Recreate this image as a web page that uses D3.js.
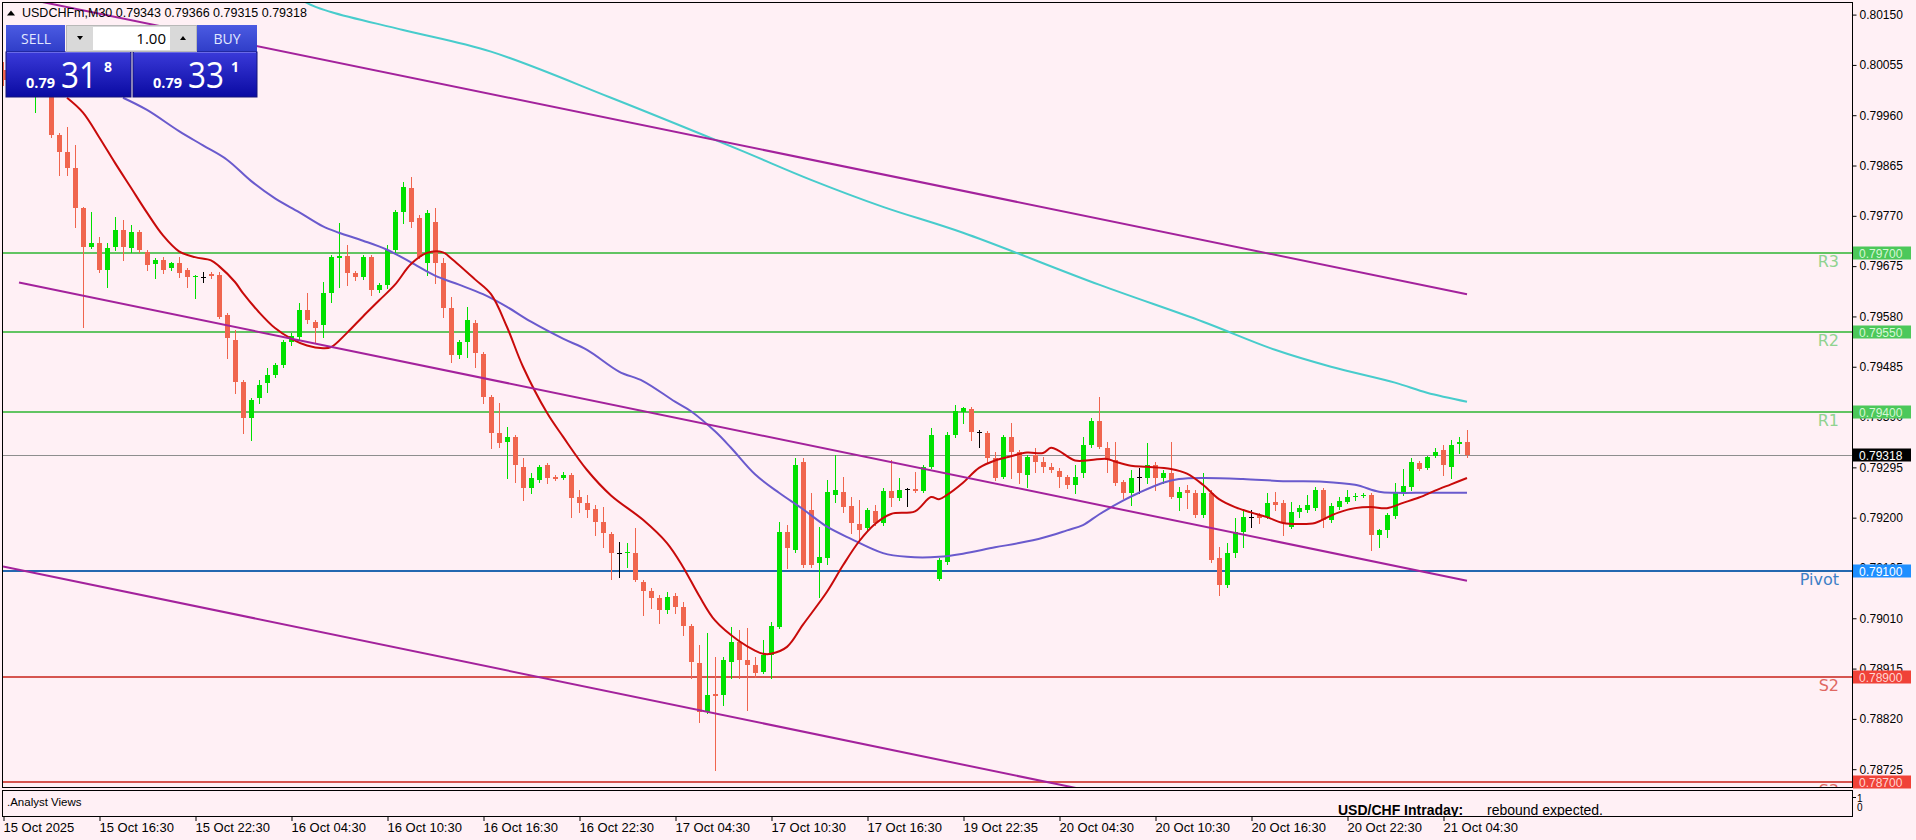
<!DOCTYPE html>
<html>
<head>
<meta charset="utf-8">
<style>
  body { margin: 0; background: #fff0f5; }
  svg { display: block; }
</style>
</head>
<body>
<svg width="1916" height="840" font-family="Liberation Sans, Arial, sans-serif"></svg>
<script src="https://d3js.org/d3.v7.min.js"></script>
<script>

// USDCHFm M30 candles, one row per bar: open, high, low, close
var bars = [
  [0.80046,0.80061,0.80017,0.80027],[0.80027,0.80042,0.80004,0.80034],[0.80034,0.80053,0.80008,0.80016],[0.80016,0.80031,0.79999,0.80023],
  [0.80010,0.80027,0.79966,0.80018],[0.80018,0.80031,0.79997,0.80008],[0.80008,0.80017,0.79919,0.79923],[0.79923,0.79927,0.79847,0.79891],
  [0.79891,0.79938,0.79847,0.79861],[0.79861,0.79904,0.79749,0.79785],[0.79785,0.79787,0.79560,0.79711],[0.79711,0.79778,0.79709,0.79719],
  [0.79719,0.79730,0.79664,0.79668],[0.79668,0.79719,0.79636,0.79709],[0.79711,0.79768,0.79706,0.79744],[0.79744,0.79762,0.79687,0.79711],
  [0.79709,0.79753,0.79702,0.79740],[0.79740,0.79744,0.79702,0.79706],[0.79702,0.79706,0.79668,0.79677],[0.79679,0.79691,0.79653,0.79687],
  [0.79687,0.79693,0.79662,0.79668],[0.79672,0.79683,0.79668,0.79681],[0.79681,0.79693,0.79655,0.79662],[0.79668,0.79672,0.79636,0.79655],
  [0.79655,0.79659,0.79615,0.79657],[0.79655,0.79664,0.79645,0.79655],[0.79660,0.79664,0.79653,0.79657],[0.79659,0.79664,0.79577,0.79579],
  [0.79583,0.79587,0.79502,0.79540],[0.79536,0.79555,0.79436,0.79456],[0.79456,0.79460,0.79360,0.79388],[0.79388,0.79426,0.79347,0.79422],
  [0.79426,0.79460,0.79417,0.79451],[0.79455,0.79483,0.79438,0.79470],[0.79470,0.79492,0.79466,0.79489],[0.79489,0.79536,0.79485,0.79532],
  [0.79532,0.79549,0.79526,0.79543],[0.79541,0.79606,0.79536,0.79592],[0.79592,0.79625,0.79568,0.79574],[0.79570,0.79574,0.79530,0.79558],
  [0.79564,0.79645,0.79541,0.79625],[0.79625,0.79696,0.79608,0.79693],[0.79691,0.79757,0.79636,0.79694],[0.79694,0.79715,0.79640,0.79662],
  [0.79662,0.79666,0.79649,0.79655],[0.79655,0.79696,0.79651,0.79693],[0.79693,0.79696,0.79621,0.79630],[0.79630,0.79643,0.79626,0.79640],
  [0.79640,0.79715,0.79634,0.79706],[0.79706,0.79781,0.79702,0.79778],[0.79778,0.79834,0.79757,0.79825],[0.79823,0.79844,0.79749,0.79759],
  [0.79766,0.79772,0.79691,0.79693],[0.79681,0.79781,0.79659,0.79776],[0.79759,0.79785,0.79643,0.79681],[0.79681,0.79691,0.79579,0.79596],
  [0.79596,0.79617,0.79494,0.79507],[0.79507,0.79536,0.79502,0.79532],[0.79532,0.79598,0.79504,0.79574],[0.79568,0.79574,0.79485,0.79511],
  [0.79509,0.79513,0.79417,0.79428],[0.79428,0.79432,0.79332,0.79360],[0.79360,0.79417,0.79334,0.79341],[0.79343,0.79371,0.79275,0.79353],
  [0.79353,0.79356,0.79268,0.79300],[0.79296,0.79313,0.79234,0.79256],[0.79256,0.79285,0.79247,0.79275],[0.79271,0.79300,0.79268,0.79296],
  [0.79300,0.79303,0.79266,0.79275],[0.79277,0.79281,0.79271,0.79273],[0.79275,0.79286,0.79273,0.79281],[0.79281,0.79285,0.79201,0.79237],
  [0.79239,0.79252,0.79211,0.79228],[0.79228,0.79243,0.79201,0.79215],[0.79217,0.79224,0.79167,0.79192],[0.79192,0.79220,0.79145,0.79171],
  [0.79169,0.79173,0.79084,0.79133],[0.79133,0.79154,0.79088,0.79133],[0.79133,0.79152,0.79107,0.79135],[0.79133,0.79181,0.79080,0.79082],
  [0.79079,0.79082,0.79016,0.79062],[0.79062,0.79067,0.79030,0.79048],[0.79048,0.79054,0.79001,0.79026],[0.79026,0.79060,0.79020,0.79050],
  [0.79052,0.79058,0.79020,0.79031],[0.79031,0.79041,0.78979,0.78996],[0.78996,0.78999,0.78897,0.78928],[0.78926,0.78960,0.78814,0.78833],
  [0.78833,0.78982,0.78831,0.78865],[0.78867,0.78937,0.78724,0.78863],[0.78865,0.78937,0.78846,0.78931],[0.78928,0.78994,0.78897,0.78965],
  [0.78965,0.78988,0.78897,0.78931],[0.78931,0.78992,0.78837,0.78922],[0.78922,0.78937,0.78899,0.78907],[0.78909,0.78969,0.78907,0.78941],
  [0.78941,0.79003,0.78897,0.78996],[0.78994,0.79192,0.78992,0.79173],[0.79173,0.79186,0.79105,0.79143],[0.79139,0.79313,0.79135,0.79300],
  [0.79305,0.79313,0.79107,0.79111],[0.79215,0.79247,0.79107,0.79111],[0.79115,0.79183,0.79050,0.79126],[0.79124,0.79271,0.79113,0.79249],
  [0.79243,0.79319,0.79230,0.79252],[0.79249,0.79277,0.79211,0.79220],[0.79222,0.79239,0.79171,0.79190],[0.79188,0.79234,0.79152,0.79177],
  [0.79181,0.79218,0.79177,0.79215],[0.79213,0.79224,0.79186,0.79190],[0.79190,0.79256,0.79186,0.79251],[0.79251,0.79309,0.79222,0.79237],
  [0.79237,0.79275,0.79234,0.79252],[0.79254,0.79256,0.79222,0.79254],[0.79254,0.79286,0.79249,0.79251],[0.79251,0.79300,0.79249,0.79296],
  [0.79296,0.79370,0.79294,0.79356],[0.79084,0.79124,0.79082,0.79120],[0.79116,0.79362,0.79113,0.79356],[0.79356,0.79413,0.79353,0.79402],
  [0.79400,0.79409,0.79379,0.79407],[0.79405,0.79409,0.79347,0.79362],[0.79362,0.79366,0.79334,0.79362],[0.79360,0.79364,0.79303,0.79313],
  [0.79313,0.79324,0.79271,0.79275],[0.79277,0.79356,0.79275,0.79353],[0.79353,0.79379,0.79275,0.79324],[0.79324,0.79328,0.79266,0.79285],
  [0.79281,0.79319,0.79258,0.79315],[0.79319,0.79332,0.79286,0.79305],[0.79305,0.79315,0.79286,0.79296],[0.79296,0.79303,0.79286,0.79290],
  [0.79288,0.79294,0.79258,0.79277],[0.79277,0.79281,0.79256,0.79262],[0.79262,0.79300,0.79247,0.79277],[0.79285,0.79353,0.79277,0.79337],
  [0.79337,0.79388,0.79334,0.79383],[0.79383,0.79428,0.79332,0.79334],[0.79332,0.79343,0.79286,0.79309],[0.79309,0.79343,0.79262,0.79266],
  [0.79268,0.79271,0.79237,0.79247],[0.79247,0.79290,0.79224,0.79275],[0.79277,0.79294,0.79247,0.79277],[0.79275,0.79341,0.79266,0.79300],
  [0.79300,0.79305,0.79252,0.79275],[0.79275,0.79290,0.79266,0.79285],[0.79285,0.79343,0.79237,0.79239],[0.79237,0.79258,0.79215,0.79249],
  [0.79252,0.79262,0.79218,0.79247],[0.79247,0.79252,0.79201,0.79205],[0.79205,0.79285,0.79201,0.79247],[0.79247,0.79252,0.79116,0.79120],
  [0.79124,0.79145,0.79054,0.79073],[0.79073,0.79152,0.79069,0.79133],[0.79133,0.79200,0.79126,0.79173],[0.79173,0.79215,0.79145,0.79201],
  [0.79201,0.79215,0.79183,0.79201],[0.79205,0.79209,0.79190,0.79200],[0.79201,0.79247,0.79199,0.79228],[0.79230,0.79249,0.79215,0.79224],
  [0.79228,0.79234,0.79167,0.79190],[0.79183,0.79230,0.79181,0.79211],[0.79211,0.79224,0.79201,0.79218],[0.79215,0.79243,0.79211,0.79224],
  [0.79218,0.79258,0.79215,0.79252],[0.79252,0.79256,0.79183,0.79196],[0.79196,0.79228,0.79192,0.79222],[0.79220,0.79239,0.79217,0.79232],
  [0.79230,0.79252,0.79228,0.79239],[0.79239,0.79247,0.79234,0.79241],[0.79241,0.79247,0.79239,0.79243],[0.79243,0.79247,0.79139,0.79167],
  [0.79167,0.79179,0.79145,0.79177],[0.79177,0.79209,0.79164,0.79205],[0.79203,0.79266,0.79200,0.79247],[0.79247,0.79292,0.79243,0.79260],
  [0.79258,0.79313,0.79252,0.79305],[0.79303,0.79307,0.79290,0.79292],[0.79294,0.79317,0.79292,0.79315],[0.79317,0.79332,0.79315,0.79324],
  [0.79328,0.79337,0.79281,0.79300],[0.79296,0.79347,0.79275,0.79337],[0.79339,0.79353,0.79322,0.79343],[0.79343,0.79366,0.79315,0.79318]
];

// bar index -> time label on the bottom scale
var timeIndex = [0, 12, 24, 36, 48, 60, 72, 84, 96, 108, 120, 132, 144, 156, 168, 180];
var timeLabels = ["15 Oct 2025", "15 Oct 16:30", "15 Oct 22:30", "16 Oct 04:30", "16 Oct 10:30", "16 Oct 16:30",
  "16 Oct 22:30", "17 Oct 04:30", "17 Oct 10:30", "17 Oct 16:30", "19 Oct 22:35", "20 Oct 04:30",
  "20 Oct 10:30", "20 Oct 16:30", "20 Oct 22:30", "21 Oct 04:30"];

var priceTicks = [0.80150, 0.80055, 0.79960, 0.79865, 0.79770, 0.79675, 0.79580, 0.79485,
  0.79390, 0.79295, 0.79200, 0.79105, 0.79010, 0.78915, 0.78820, 0.78725];

var levelNames = ["R3", "R2", "R1", "Pivot", "S2", "S3"];
var levelPrices = [0.79700, 0.79550, 0.79400, 0.79100, 0.78900, 0.78700];

var lastPrice = 0.79318;
var ohlcTitle = [0.79343, 0.79366, 0.79315, 0.79318];

// moving averages: [bar index, price]
var fastMA = [[8,0.79993],[10,0.79965],[12,0.79919],[14,0.79870],[16,0.79823],[18,0.79776],[20,0.79733],[22,0.79703],
  [24,0.79692],[26,0.79686],[27,0.79675],[29,0.79645],[30,0.79624],[32,0.79588],[34,0.79558],[36,0.79538],[38,0.79525],
  [40,0.79520],[41,0.79522],[43,0.79549],[45,0.79580],[47,0.79610],[49,0.79640],[51,0.79679],[53,0.79700],[55,0.79701],
  [56,0.79690],[59,0.79650],[61,0.79622],[63,0.79560],[65,0.79485],[68,0.79398],[70,0.79353],[73,0.79290],[76,0.79242],
  [80,0.79196],[83,0.79152],[85,0.79107],[87,0.79053],[89,0.79006],[92,0.78967],[94,0.78949],[95,0.78943],[96,0.78943],
  [98,0.78956],[100,0.78998],[103,0.79060],[105,0.79110],[107,0.79155],[109,0.79188],[111,0.79207],[114,0.79212],
  [116,0.79239],[117,0.79235],[118,0.79243],[120,0.79266],[122,0.79294],[124,0.79308],[126,0.79316],[128,0.79323],
  [130,0.79322],[131,0.79332],[132,0.79326],[134,0.79308],[136,0.79309],[138,0.79311],[139,0.79306],[141,0.79298],
  [143,0.79296],[146,0.79292],[148,0.79283],[150,0.79262],[152,0.79235],[154,0.79220],[156,0.79210],[158,0.79201],
  [160,0.79190],[162,0.79188],[164,0.79190],[166,0.79204],[167,0.79210],[169,0.79218],[171,0.79220],[173,0.79218],
  [175,0.79228],[177,0.79238],[179,0.79251],[181,0.79263],[183,0.79275]];

var slowMA = [[15,0.79993],[18,0.79970],[22,0.79930],[25,0.79903],[28,0.79876],[31,0.79836],[34,0.79803],[37,0.79777],
  [40,0.79750],[42,0.79738],[45,0.79723],[48,0.79706],[51,0.79682],[54,0.79657],[57,0.79640],[60,0.79622],[63,0.79598],
  [66,0.79570],[70,0.79538],[73,0.79517],[77,0.79476],[80,0.79458],[84,0.79419],[86,0.79401],[89,0.79363],[91,0.79332],
  [94,0.79282],[97,0.79247],[100,0.79216],[103,0.79183],[106,0.79160],[110,0.79133],[113,0.79126],[117,0.79126],
  [120,0.79132],[124,0.79144],[127,0.79152],[130,0.79162],[133,0.79176],[135,0.79186],[137,0.79206],[140,0.79232],
  [142,0.79247],[145,0.79266],[147,0.79273],[150,0.79275],[155,0.79273],[160,0.79269],[165,0.79268],[169,0.79262],
  [172,0.79249],[174,0.79247],[178,0.79247],[183,0.79247]];

var longMA = [[34,0.80220],[38,0.80172],[41,0.80155],[50,0.80121],[61,0.80080],[76,0.79993],[92,0.79895],[101,0.79838],
  [110,0.79787],[120,0.79738],[137,0.79640],[150,0.79570],[159,0.79517],[166,0.79485],[174,0.79455],[178,0.79436],[183,0.79419]];

// regression channel lines: start and end [bar index, price]
var channelLines = [
  [[0, 0.80189], [183, 0.79622]],
  [[2, 0.79644], [183, 0.79081]],
  [[0, 0.79108], [183, 0.78537]]
];

var svg = d3.select("svg"),
    width = +svg.attr("width"),
    height = +svg.attr("height");

var plotL = 2, plotT = 2, plotR = 1852, plotB = 787;

svg.append("rect").attr("width", width).attr("height", height).attr("fill", "#fff0f5");

var defs = svg.append("defs");
defs.append("clipPath").attr("id", "plot")
  .append("rect").attr("x", plotL + 1).attr("y", plotT + 1)
  .attr("width", plotR - plotL - 1).attr("height", plotB - plotT - 1);
defs.append("clipPath").attr("id", "sub")
  .append("rect").attr("x", plotL + 1).attr("y", 791)
  .attr("width", plotR - plotL - 1).attr("height", 25);

var x = d3.scaleLinear().domain([0, 183]).range([3, 1467]);
var y = d3.scaleLinear().domain([0.78725, 0.80150]).range([769.2, 14.6]);
var px = function(i) { return Math.round(x(i)); };

var levelColor = function(d) { return d[0] == "R" ? "#62c462" : d[0] == "P" ? "#2468b0" : "#d65550"; };
var levelText = function(d) { return d[0] == "R" ? "#8fd38f" : d[0] == "P" ? "#3d7fc6" : "#e06862"; };
var levelBox = function(d) { return d[0] == "R" ? "#4cc85a" : d[0] == "P" ? "#1e8fff" : "#f04238"; };
var levelBoxText = function(d) { return d[0] == "R" ? "#d6f7d6" : d[0] == "P" ? "#ffffff" : "#ffd6d2"; };

var plot = svg.append("g").attr("clip-path", "url(#plot)");

// pivot levels
plot.selectAll(".level")
  .data(levelNames)
  .enter().append("line")
    .attr("class", "level")
    .attr("x1", plotL).attr("x2", plotR)
    .attr("y1", function(d, i) { return Math.round(y(levelPrices[i])); })
    .attr("y2", function(d, i) { return Math.round(y(levelPrices[i])); })
    .attr("stroke", levelColor)
    .attr("stroke-width", 2);

plot.append("line")
    .attr("x1", plotL).attr("x2", plotR)
    .attr("y1", Math.round(y(lastPrice)) + 0.5).attr("y2", Math.round(y(lastPrice)) + 0.5)
    .attr("stroke", "#8e8e8e").attr("stroke-width", 1);

plot.selectAll(".lvltext")
  .data(levelNames)
  .enter().append("text")
    .attr("x", 1839)
    .attr("y", function(d, i) { return Math.round(y(levelPrices[i])) + 14; })
    .attr("text-anchor", "end")
    .attr("font-family", "DejaVu Sans, sans-serif")
    .attr("font-size", 16)
    .attr("fill", levelText)
    .text(function(d) { return d; });

// candles
var up = "#00e000", down = "#f0654e";
var candle = plot.selectAll(".bar")
  .data(bars)
  .enter().append("g")
    .attr("class", "bar");

candle.append("line")
    .attr("x1", function(d, i) { return px(i) + 0.5; })
    .attr("x2", function(d, i) { return px(i) + 0.5; })
    .attr("y1", function(d) { return Math.round(y(d[1])); })
    .attr("y2", function(d) { return Math.round(y(d[2])) + 1; })
    .attr("stroke", function(d) { return d[0] == d[3] ? "#000" : d[3] > d[0] ? up : down; });

candle.append("rect")
    .attr("x", function(d, i) { return px(i) - 2; })
    .attr("width", 5)
    .attr("y", function(d) { return Math.round(y(Math.max(d[0], d[3]))); })
    .attr("height", function(d) { return Math.max(1, Math.round(y(Math.min(d[0], d[3]))) - Math.round(y(Math.max(d[0], d[3])))); })
    .attr("fill", function(d) { return d[0] == d[3] ? "#000" : d[3] > d[0] ? up : down; });

// indicator lines
var maLine = d3.line()
    .x(function(d) { return x(d[0]); })
    .y(function(d) { return y(d[1]); })
    .curve(d3.curveCatmullRom.alpha(0.5));

plot.append("path").datum(longMA).attr("d", maLine)
    .attr("fill", "none").attr("stroke", "#48cccc").attr("stroke-width", 2);
plot.append("path").datum(slowMA).attr("d", maLine)
    .attr("fill", "none").attr("stroke", "#6a5acd").attr("stroke-width", 2);
plot.append("path").datum(fastMA).attr("d", maLine)
    .attr("fill", "none").attr("stroke", "#c80a0a").attr("stroke-width", 2);

plot.selectAll(".channel")
  .data(channelLines)
  .enter().append("path")
    .attr("d", d3.line().x(function(d) { return x(d[0]); }).y(function(d) { return y(d[1]); }))
    .attr("fill", "none")
    .attr("stroke", "#a3229c")
    .attr("stroke-width", 2);

// frames
svg.append("rect")
    .attr("x", plotL + 0.5).attr("y", plotT + 0.5)
    .attr("width", plotR - plotL).attr("height", plotB - plotT)
    .attr("fill", "none").attr("stroke", "#000");
svg.append("rect")
    .attr("x", plotL + 0.5).attr("y", 790.5)
    .attr("width", plotR - plotL).attr("height", 26)
    .attr("fill", "none").attr("stroke", "#000");

// price scale
var yAxis = svg.append("g")
    .attr("transform", "translate(" + (plotR + 0.5) + ",0)")
    .call(d3.axisRight(y).tickValues(priceTicks).tickSize(4).tickPadding(3).tickFormat(d3.format(".5f")));
yAxis.select(".domain").remove();
yAxis.selectAll("text").attr("font-size", 12).attr("font-family", "Liberation Sans, Arial, sans-serif").attr("fill", "#000");
yAxis.selectAll("line").attr("stroke", "#000");

var tags = svg.append("g");
var tagData = levelNames.map(function(d, i) { return {name: d, price: levelPrices[i]}; })
    .concat([{name: "last", price: lastPrice}]);
var tag = tags.selectAll("g").data(tagData).enter().append("g")
    .attr("transform", function(d) { return "translate(1853," + Math.round(y(d.price)) + ")"; });
tag.append("rect")
    .attr("x", 0).attr("y", -6.5).attr("width", 58).attr("height", 13)
    .attr("fill", function(d) { return d.name == "last" ? "#000" : levelBox(d.name); });
tag.append("text")
    .attr("x", 6).attr("y", 4.5)
    .attr("font-size", 12)
    .attr("fill", function(d) { return d.name == "last" ? "#fff" : levelBoxText(d.name); })
    .text(function(d) { return d3.format(".5f")(d.price); });

// time scale
var xAxis = svg.append("g")
    .attr("transform", "translate(0,817)")
    .call(d3.axisBottom(x).tickValues(timeIndex).tickSize(4).tickFormat(function(d, i) { return timeLabels[i]; }));
xAxis.select(".domain").remove();
xAxis.selectAll(".tick line").attr("stroke", "#000").attr("transform", "translate(0.5,0)");
xAxis.selectAll("text")
    .attr("x", 0).attr("y", 5).attr("dy", "0.75em")
    .attr("text-anchor", "start")
    .attr("font-size", 13)
    .attr("font-family", "Liberation Sans, Arial, sans-serif")
    .attr("fill", "#000");

// sub window
var sub = svg.append("g").attr("clip-path", "url(#sub)");
sub.append("text").attr("x", 7).attr("y", 806).attr("font-size", 11.5).text(".Analyst Views");
sub.append("text").attr("x", 1338).attr("y", 815).attr("font-size", 14).attr("font-weight", "bold")
    .attr("text-decoration", "underline").text("USD/CHF Intraday:");
sub.append("text").attr("x", 1487).attr("y", 815).attr("font-size", 14).text("rebound expected.");
svg.append("text").attr("x", 1857).attr("y", 802).attr("font-size", 10).text("1");
svg.append("text").attr("x", 1857).attr("y", 811).attr("font-size", 10).text("0");
svg.append("line").attr("x1", 1852).attr("x2", 1856).attr("y1", 797.5).attr("y2", 797.5).attr("stroke", "#000");

// title
svg.append("path").attr("d", "M7,15.5L15,15.5L11,10.5Z").attr("fill", "#000");
svg.append("text")
    .attr("x", 22).attr("y", 17)
    .attr("font-size", 12.5)
    .text("USDCHFm,M30 " + ohlcTitle.map(d3.format(".5f")).join(" "));

// one click trading panel
var btnGrad = defs.append("linearGradient").attr("id", "btn").attr("x1", 0).attr("y1", 0).attr("x2", 0).attr("y2", 1);
btnGrad.append("stop").attr("offset", "0%").attr("stop-color", "#4b5be2");
btnGrad.append("stop").attr("offset", "100%").attr("stop-color", "#2f3dc8");
var boxGrad = defs.append("linearGradient").attr("id", "box").attr("x1", 0).attr("y1", 0).attr("x2", 0).attr("y2", 1);
boxGrad.append("stop").attr("offset", "0%").attr("stop-color", "#3a3ad9");
boxGrad.append("stop").attr("offset", "100%").attr("stop-color", "#0a0aa2");

var panel = svg.append("g").attr("font-family", "Open Sans, Liberation Sans, sans-serif");
panel.append("rect").attr("x", 6).attr("y", 25).attr("width", 59).attr("height", 27).attr("fill", "url(#btn)");
panel.append("rect").attr("x", 197).attr("y", 25).attr("width", 60).attr("height", 27).attr("fill", "url(#btn)");
panel.append("rect").attr("x", 6).attr("y", 52).attr("width", 125).attr("height", 45).attr("fill", "url(#box)").attr("stroke", "#15157a");
panel.append("rect").attr("x", 133).attr("y", 52).attr("width", 124).attr("height", 45).attr("fill", "url(#box)").attr("stroke", "#15157a");
panel.append("line").attr("x1", 7).attr("x2", 130).attr("y1", 52.5).attr("y2", 52.5).attr("stroke", "#6a6ae8");
panel.append("line").attr("x1", 134).attr("x2", 256).attr("y1", 52.5).attr("y2", 52.5).attr("stroke", "#6a6ae8");
panel.append("rect").attr("x", 66.5).attr("y", 25.5).attr("width", 130).attr("height", 26).attr("fill", "#d9d9d9").attr("stroke", "#b8b8b8");
panel.append("rect").attr("x", 93).attr("y", 27).attr("width", 77).attr("height", 23).attr("fill", "#fff");
panel.append("path").attr("d", "M77,36L83,36L80,40Z").attr("fill", "#000");
panel.append("path").attr("d", "M180,40L186,40L183,36Z").attr("fill", "#000");
panel.append("text").attr("x", 166).attr("y", 44).attr("text-anchor", "end").attr("font-size", 15).text("1.00");
panel.append("text").attr("x", 36).attr("y", 44).attr("text-anchor", "middle").attr("font-size", 14).attr("fill", "#e2e8ff").text("SELL");
panel.append("text").attr("x", 227).attr("y", 44).attr("text-anchor", "middle").attr("font-size", 14).attr("fill", "#e2e8ff").text("BUY");

var quote = panel.selectAll(".quote")
  .data([["0.79", "31", "8"], ["0.79", "33", "1"]])
  .enter().append("g")
    .attr("transform", function(d, i) { return "translate(" + (i ? 127 : 0) + ",0)"; })
    .attr("fill", "#fff");
quote.append("text").attr("x", 26).attr("y", 88).attr("font-size", 14).attr("font-weight", "bold")
    .attr("textLength", 29).attr("lengthAdjust", "spacingAndGlyphs").text(function(d) { return d[0]; });
quote.append("text").attr("x", 61).attr("y", 88).attr("font-size", 37)
    .attr("textLength", 36).attr("lengthAdjust", "spacingAndGlyphs").text(function(d) { return d[1]; });
quote.append("text").attr("x", 104).attr("y", 72).attr("font-size", 14).attr("font-weight", "bold").text(function(d) { return d[2]; });

</script>
</body>
</html>
